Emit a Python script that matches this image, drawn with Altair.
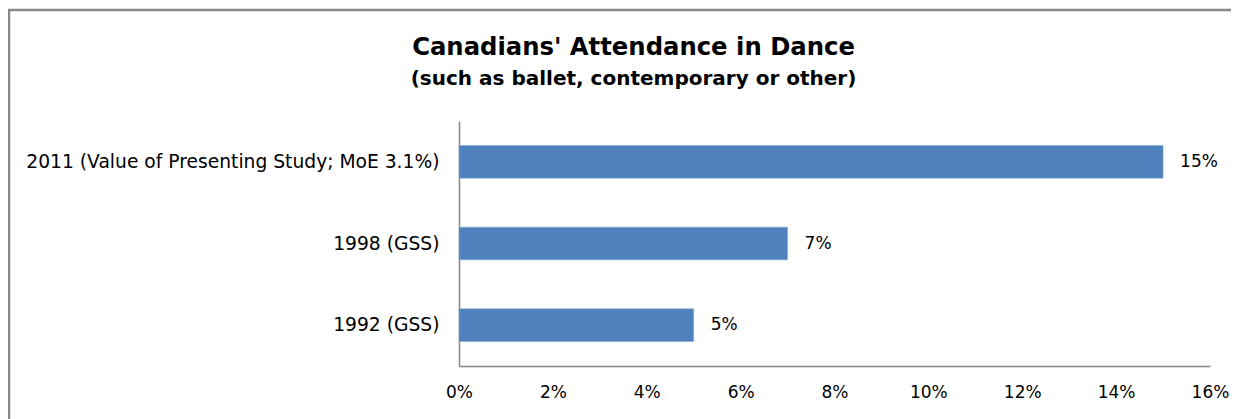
import altair as alt
import pandas as pd

categories = ["2011 (Value of Presenting Study; MoE 3.1%)", "1998 (GSS)", "1992 (GSS)"]
values = [0.15, 0.07, 0.05]
value_labels = ["15%", "7%", "5%"]
x_ticks = [0, 0.02, 0.04, 0.06, 0.08, 0.10, 0.12, 0.14, 0.16]

df = pd.DataFrame({"cat": categories, "val": values, "lab": value_labels})
frame_df = pd.DataFrame({"k": [0]})

FONT = "DejaVu Sans"
AXIS_GRAY = "#868686"
FRAME_GRAY = "#888888"

y_enc = alt.Y(
    "cat:N", sort=categories, title=None,
    scale=alt.Scale(paddingInner=0.6, paddingOuter=0.3),
    axis=alt.Axis(ticks=False, domainColor=AXIS_GRAY, domainWidth=1.5,
                  labelFontSize=18.7, labelColor="#000000", labelFont=FONT,
                  labelPadding=20, labelLimit=0, minExtent=440, maxExtent=440),
)
x_enc = alt.X(
    "val:Q", title=None,
    scale=alt.Scale(domain=[0, 0.16], nice=False),
    axis=alt.Axis(format=".0%", values=x_ticks, grid=False, ticks=False,
                  domainColor=AXIS_GRAY, domainWidth=1.5, labelFontSize=17,
                  labelColor="#000000", labelFont=FONT, labelPadding=18,
                  labelFlush=False),
)

bars = alt.Chart(df).mark_bar(color="#4F81BD", stroke="#7FA6D6", strokeWidth=0.5).encode(x=x_enc, y=y_enc)
text = alt.Chart(df).mark_text(align="left", baseline="middle", dx=17, fontSize=17,
                               font=FONT, color="#000000").encode(
    x="val:Q", y=alt.Y("cat:N", sort=categories), text="lab:N")

# decorative chart border (top and left edges only, as in the reference)
frame_top = alt.Chart(frame_df).mark_rule(color=FRAME_GRAY, strokeWidth=2.5, clip=False).encode(
    x=alt.value(-451), x2=alt.value(800), y=alt.value(-111))
frame_left = alt.Chart(frame_df).mark_rule(color=FRAME_GRAY, strokeWidth=2.5, clip=False).encode(
    x=alt.value(-450), y=alt.value(-112), y2=alt.value(320))

chart = alt.layer(bars, text, frame_top, frame_left).properties(
    width=751, height=245,
    title=alt.TitleParams(
        text="Canadians' Attendance in Dance",
        subtitle="(such as ballet, contemporary or other)",
        anchor="middle", frame="group", dx=-201, dy=81, offset=0,
        font=FONT, fontSize=24.3, fontWeight="bold", color="#000000",
        subtitleFont=FONT, subtitleFontSize=20, subtitleFontWeight="bold",
        subtitleColor="#000000", subtitlePadding=8,
    ),
    autosize=alt.AutoSizeParams(type="none"),
    padding={"left": 451, "top": 113, "right": 21, "bottom": 53},
).configure_view(stroke=None)

chart.save("out.html", embed_options={"renderer": "svg", "actions": False})
